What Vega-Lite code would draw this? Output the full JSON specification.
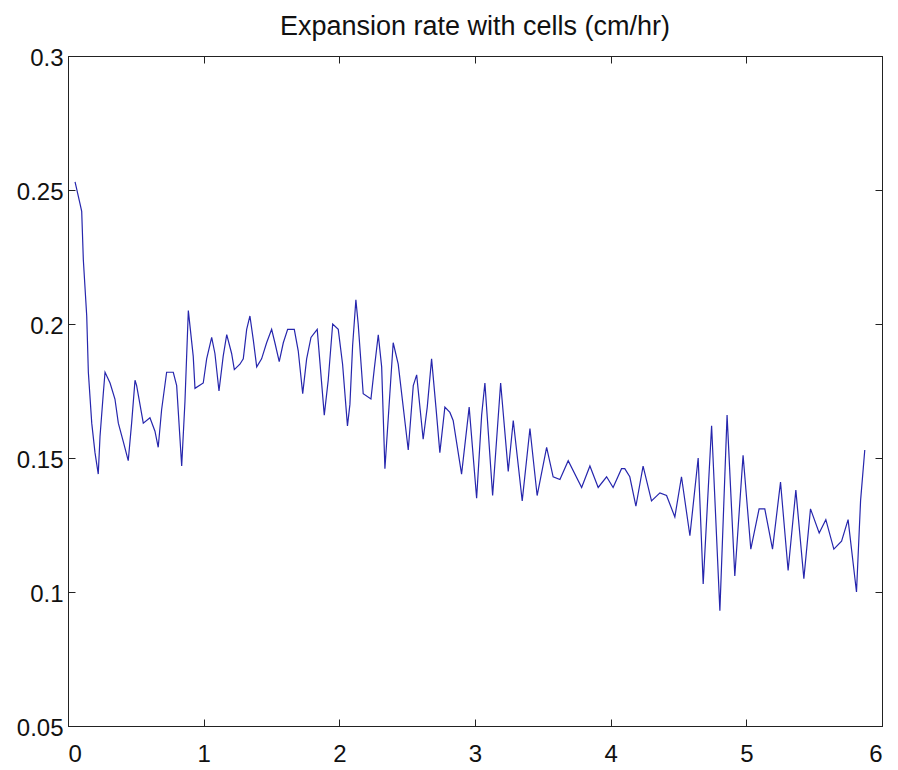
{
  "$schema": "https://vega.github.io/schema/vega-lite/v6.json",
  "width": 814,
  "height": 670,
  "autosize": {"type": "none"},
  "padding": {"left": 68, "top": 56, "right": 16, "bottom": 44},
  "background": "white",
  "title": {
    "text": "Expansion rate with cells (cm/hr)",
    "font": "Liberation Sans",
    "fontSize": 27,
    "fontWeight": "normal",
    "color": "#111111",
    "anchor": "middle",
    "offset": 5
  },
  "data": {
    "values": [
      {"t": 0.052, "rate": 0.253}, {"t": 0.088, "rate": 0.245}, {"t": 0.101, "rate": 0.242}, {"t": 0.113, "rate": 0.224},
      {"t": 0.138, "rate": 0.203}, {"t": 0.150, "rate": 0.182}, {"t": 0.175, "rate": 0.163}, {"t": 0.199, "rate": 0.152},
      {"t": 0.223, "rate": 0.144}, {"t": 0.236, "rate": 0.158}, {"t": 0.260, "rate": 0.174}, {"t": 0.273, "rate": 0.182},
      {"t": 0.310, "rate": 0.178}, {"t": 0.346, "rate": 0.172}, {"t": 0.371, "rate": 0.163}, {"t": 0.408, "rate": 0.156},
      {"t": 0.444, "rate": 0.149}, {"t": 0.469, "rate": 0.163}, {"t": 0.494, "rate": 0.179}, {"t": 0.506, "rate": 0.177},
      {"t": 0.555, "rate": 0.163}, {"t": 0.604, "rate": 0.165}, {"t": 0.641, "rate": 0.160}, {"t": 0.665, "rate": 0.154},
      {"t": 0.690, "rate": 0.168}, {"t": 0.727, "rate": 0.182}, {"t": 0.776, "rate": 0.182}, {"t": 0.801, "rate": 0.177},
      {"t": 0.838, "rate": 0.147}, {"t": 0.862, "rate": 0.171}, {"t": 0.887, "rate": 0.205}, {"t": 0.923, "rate": 0.188},
      {"t": 0.936, "rate": 0.176}, {"t": 0.997, "rate": 0.178}, {"t": 1.022, "rate": 0.187}, {"t": 1.059, "rate": 0.195},
      {"t": 1.083, "rate": 0.189}, {"t": 1.113, "rate": 0.175}, {"t": 1.144, "rate": 0.188}, {"t": 1.170, "rate": 0.196},
      {"t": 1.206, "rate": 0.189}, {"t": 1.226, "rate": 0.183}, {"t": 1.267, "rate": 0.185}, {"t": 1.292, "rate": 0.187},
      {"t": 1.317, "rate": 0.198}, {"t": 1.341, "rate": 0.203}, {"t": 1.366, "rate": 0.194}, {"t": 1.391, "rate": 0.184},
      {"t": 1.427, "rate": 0.187}, {"t": 1.464, "rate": 0.193}, {"t": 1.501, "rate": 0.198}, {"t": 1.525, "rate": 0.193},
      {"t": 1.557, "rate": 0.186}, {"t": 1.587, "rate": 0.193}, {"t": 1.619, "rate": 0.198}, {"t": 1.668, "rate": 0.198},
      {"t": 1.697, "rate": 0.190}, {"t": 1.730, "rate": 0.174}, {"t": 1.759, "rate": 0.187}, {"t": 1.791, "rate": 0.195},
      {"t": 1.837, "rate": 0.198}, {"t": 1.889, "rate": 0.166}, {"t": 1.918, "rate": 0.179}, {"t": 1.951, "rate": 0.200},
      {"t": 1.992, "rate": 0.198}, {"t": 2.024, "rate": 0.185}, {"t": 2.060, "rate": 0.162}, {"t": 2.078, "rate": 0.170},
      {"t": 2.098, "rate": 0.192}, {"t": 2.122, "rate": 0.209}, {"t": 2.139, "rate": 0.200}, {"t": 2.176, "rate": 0.174},
      {"t": 2.233, "rate": 0.172}, {"t": 2.257, "rate": 0.183}, {"t": 2.287, "rate": 0.196}, {"t": 2.312, "rate": 0.184},
      {"t": 2.336, "rate": 0.146}, {"t": 2.366, "rate": 0.169}, {"t": 2.397, "rate": 0.193}, {"t": 2.434, "rate": 0.185},
      {"t": 2.508, "rate": 0.153}, {"t": 2.545, "rate": 0.177}, {"t": 2.570, "rate": 0.181}, {"t": 2.618, "rate": 0.157},
      {"t": 2.648, "rate": 0.169}, {"t": 2.680, "rate": 0.187}, {"t": 2.712, "rate": 0.169}, {"t": 2.741, "rate": 0.152},
      {"t": 2.778, "rate": 0.169}, {"t": 2.815, "rate": 0.167}, {"t": 2.839, "rate": 0.164}, {"t": 2.901, "rate": 0.144},
      {"t": 2.957, "rate": 0.169}, {"t": 3.012, "rate": 0.135}, {"t": 3.049, "rate": 0.166}, {"t": 3.073, "rate": 0.178},
      {"t": 3.130, "rate": 0.136}, {"t": 3.189, "rate": 0.178}, {"t": 3.245, "rate": 0.145}, {"t": 3.282, "rate": 0.164},
      {"t": 3.348, "rate": 0.134}, {"t": 3.405, "rate": 0.161}, {"t": 3.458, "rate": 0.136}, {"t": 3.528, "rate": 0.154},
      {"t": 3.576, "rate": 0.143}, {"t": 3.626, "rate": 0.142}, {"t": 3.687, "rate": 0.149}, {"t": 3.786, "rate": 0.139},
      {"t": 3.847, "rate": 0.147}, {"t": 3.908, "rate": 0.139}, {"t": 3.970, "rate": 0.143}, {"t": 4.018, "rate": 0.139},
      {"t": 4.080, "rate": 0.146}, {"t": 4.104, "rate": 0.146}, {"t": 4.141, "rate": 0.143}, {"t": 4.186, "rate": 0.132},
      {"t": 4.239, "rate": 0.147}, {"t": 4.301, "rate": 0.134}, {"t": 4.363, "rate": 0.137}, {"t": 4.412, "rate": 0.136},
      {"t": 4.473, "rate": 0.128}, {"t": 4.522, "rate": 0.143}, {"t": 4.584, "rate": 0.121}, {"t": 4.645, "rate": 0.150},
      {"t": 4.682, "rate": 0.103}, {"t": 4.744, "rate": 0.162}, {"t": 4.805, "rate": 0.093}, {"t": 4.858, "rate": 0.166},
      {"t": 4.915, "rate": 0.106}, {"t": 4.976, "rate": 0.151}, {"t": 5.033, "rate": 0.116}, {"t": 5.094, "rate": 0.131},
      {"t": 5.136, "rate": 0.131}, {"t": 5.193, "rate": 0.116}, {"t": 5.252, "rate": 0.141}, {"t": 5.308, "rate": 0.108},
      {"t": 5.365, "rate": 0.138}, {"t": 5.424, "rate": 0.105}, {"t": 5.473, "rate": 0.131}, {"t": 5.537, "rate": 0.122},
      {"t": 5.586, "rate": 0.127}, {"t": 5.645, "rate": 0.116}, {"t": 5.702, "rate": 0.119}, {"t": 5.750, "rate": 0.127},
      {"t": 5.812, "rate": 0.100}, {"t": 5.842, "rate": 0.134}, {"t": 5.873, "rate": 0.153}
    ]
  },
  "config": {
    "view": {"stroke": "#222222", "strokeWidth": 1},
    "axis": {
      "grid": false,
      "domainColor": "#222222",
      "tickColor": "#222222",
      "labelFont": "Liberation Sans",
      "labelFontSize": 24,
      "labelColor": "#111111",
      "title": null
    }
  },
  "layer": [
    {
      "mark": {"type": "line", "color": "#2626ad", "strokeWidth": 1.2},
      "encoding": {
        "x": {
          "field": "t", "type": "quantitative",
          "scale": {"domain": [0, 6], "nice": false, "zero": false},
          "axis": {"orient": "bottom", "values": [0, 1, 2, 3, 4, 5, 6], "format": "d", "tickSize": -7, "labelPadding": 23, "title": null}
        },
        "y": {
          "field": "rate", "type": "quantitative",
          "scale": {"domain": [0.05, 0.3], "nice": false, "zero": false},
          "axis": {"orient": "left", "values": [0.05, 0.1, 0.15, 0.2, 0.25, 0.3], "format": "~g", "tickSize": -7, "labelPadding": 12, "labelOffset": 2, "title": null}
        }
      }
    },
    {
      "mark": {"type": "line", "color": "#2626ad", "strokeWidth": 1.2, "opacity": 0},
      "encoding": {
        "x": {
          "field": "t", "type": "quantitative",
          "scale": {"domain": [0, 6], "nice": false, "zero": false},
          "axis": {"orient": "top", "values": [0, 1, 2, 3, 4, 5, 6], "labels": false, "tickSize": -7, "title": null}
        },
        "y": {
          "field": "rate", "type": "quantitative",
          "scale": {"domain": [0.05, 0.3], "nice": false, "zero": false},
          "axis": {"orient": "right", "values": [0.05, 0.1, 0.15, 0.2, 0.25, 0.3], "labels": false, "tickSize": -7, "title": null}
        }
      }
    }
  ],
  "resolve": {"axis": {"x": "independent", "y": "independent"}}
}
